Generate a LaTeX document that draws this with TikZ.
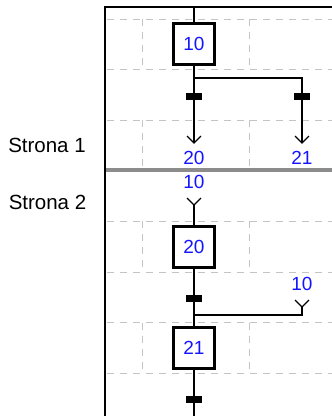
\documentclass[tikz,border=0pt]{standalone}
\usepackage{fontspec}
\setmainfont{Liberation Sans}
\definecolor{gridgray}{RGB}{196,196,196}
\definecolor{sepgray}{RGB}{140,140,140}
\definecolor{stepblue}{RGB}{20,20,255}
\begin{document}
\begin{tikzpicture}[x=1pt,y=-1pt,
  grid/.style={draw=gridgray, line width=0.9pt, dash pattern=on 7pt off 6pt},
  frame/.style={line width=1.6pt, draw=black},
  link/.style={line width=1.2pt, draw=black},
  stepbox/.style={draw=black, line width=3pt, fill=white, minimum size=41pt, inner sep=0pt, font=\fontsize{19}{19}\selectfont, text=stepblue},
  lbl/.style={font=\fontsize{19}{19}\selectfont, text=stepblue, inner sep=0pt},
  bar/.style={fill=black, minimum width=16pt, minimum height=7pt, inner sep=0pt},
  side/.style={font=\fontsize{20.5}{20.5}\selectfont, inner sep=0pt, anchor=base}
]
\useasboundingbox (0,0) rectangle (332,416);
% grid
\foreach \yy in {19,69.6,120.2,221.4,272,322.6,373.2}
  \draw[grid] (107,\yy) -- (332,\yy);
\foreach \xx in {142,249}{
  \draw[grid] (\xx,19) -- (\xx,69.6);
  \draw[grid] (\xx,120.2) -- (\xx,168);
  \draw[grid] (\xx,221.4) -- (\xx,272);
  \draw[grid] (\xx,322.6) -- (\xx,373.2);
}
% page separator
\draw[line width=4.5pt, draw=sepgray] (105,170) -- (332,170);
% frame
\draw[frame] (105,416) -- (105,7) -- (332,7);
% coordinates
\coordinate (top) at (194,7);
\coordinate (j1) at (194,78);
\coordinate (a1) at (194,143);
\coordinate (a2) at (302,143);
\coordinate (y1) at (194,205);
\coordinate (j2) at (194,315);
\coordinate (y2) at (302,307);
\coordinate (bot) at (194,416);
% steps
\node[stepbox] (s10) at (194,44) {10};
\node[stepbox] (s20) at (194,246.5) {20};
\node[stepbox] (s21) at (194,348) {21};
% links
\draw[link] (top) -- (s10.north);
\draw[link] (s10.south) -- (a1);
\draw[link] (j1) -| (a2);
\draw[link] (a1) ++(-7,-7) -- (a1) -- ++(7,-7);
\draw[link] (a2) ++(-7,-7) -- (a2) -- ++(7,-7);
\draw[link] (y1) ++(-7,-7) -- (y1) -- ++(7,-7);
\draw[link] (y1) -- (s20.north);
\draw[link] (s20.south) -- (s21.north);
\draw[link] (j2) -| (y2);
\draw[link] (y2) ++(-7,-7) -- (y2) -- ++(7,-7);
\draw[link] (s21.south) -- (bot);
% transitions
\node[bar] (t1) at (194,96) {};
\node[bar] (t2) at (302,96) {};
\node[bar] (t3) at (194,298) {};
\node[bar] (t4) at (194,399) {};
% labels
\node[lbl] (l20) at (194,158) {20};
\node[lbl] (l21) at (302,158) {21};
\node[lbl] (l10a) at (194,181.5) {10};
\node[lbl] (l10b) at (302,283.5) {10};
\node[side] (p1) at (47,152) {Strona 1};
\node[side] (p2) at (47.5,209.5) {Strona 2};
\end{tikzpicture}
\end{document}
